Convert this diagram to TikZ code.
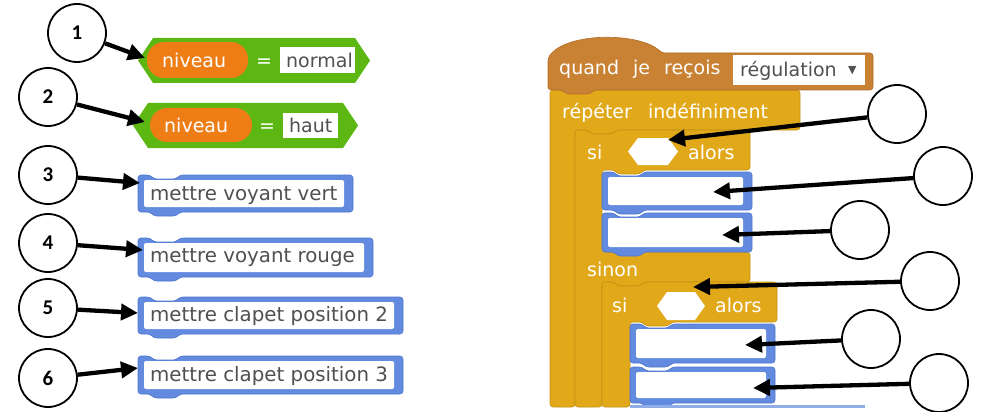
\documentclass[tikz,border=0pt]{standalone}
\usepackage{fontspec}
\setmainfont{DejaVu Sans}
\newfontfamily\numfont{Carlito}
\usetikzlibrary{arrows.meta}
\definecolor{scgreen}{RGB}{92,183,18}
\definecolor{scorange}{RGB}{238,125,22}
\definecolor{scblue}{RGB}{98,138,222}
\definecolor{scbluedark}{RGB}{80,118,208}
\definecolor{schat}{RGB}{201,130,52}
\definecolor{schatdark}{RGB}{178,110,40}
\definecolor{scctrl}{RGB}{225,169,26}
\definecolor{scctrldark}{RGB}{196,145,18}
\definecolor{sctextgray}{RGB}{80,80,80}
\newcommand\stackblk[4]{%
  \fill[scblue, draw=scbluedark, line width=0.6pt, rounded corners=3pt]
   (#1,#2) -- ({#1+12},#2) -- ({#1+16},{#2+4}) -- ({#1+38},{#2+4}) -- ({#1+42},#2) -- (#3,#2)
   -- (#3,#4) -- ({#1+42},#4) -- ({#1+38},{#4+4}) -- ({#1+16},{#4+4}) -- ({#1+12},#4) -- (#1,#4) -- cycle;
  \fill[white, rounded corners=2pt] ({#1+6},{#2+5}) rectangle ({#3-9},{#4-5});
}
\newcommand\boolblk[4]{%
  \fill[scgreen] (#1,{(#2+#4)/2}) -- ({#1+15},#2) -- ({#3-15},#2) -- (#3,{(#2+#4)/2}) -- ({#3-15},#4) -- ({#1+15},#4) -- cycle;
}
\tikzset{
  circ/.style={circle, draw, line width=1.8pt, minimum size=58pt, inner sep=0pt, font=\numfont\bfseries\fontsize{21}{21}\selectfont},
  arr/.style={line width=4.3pt, -{Triangle[length=17pt,width=16pt]}},
  wtext/.style={anchor=base west, inner sep=0pt, text=white, font=\fontsize{19}{19}\selectfont},
  gtext/.style={anchor=base west, inner sep=0pt, text=sctextgray, font=\fontsize{19}{19}\selectfont},
  btext/.style={anchor=base west, inner sep=0pt, text=sctextgray, font=\fontsize{19.8}{20}\selectfont},
  pill/.style={fill=scorange, rounded corners=17pt},
  slot/.style={fill=white},
  ctrlblk/.style={fill=scctrl, draw=scctrldark, line width=0.6pt, rounded corners=3pt},
}
\begin{document}
\begin{tikzpicture}[x=1pt,y=-1pt]
\useasboundingbox (0,0) rectangle (986,412);
% ---------- left side blocks ----------
\boolblk{138}{38}{370}{83}
\fill[pill] (147,42) rectangle (248,78);
\node[wtext] (nv1) at (162,68) {niveau};
\node[wtext] (eq1) at (256,68) {=};
\fill[white] (280,47) rectangle (355,73);
\node[gtext] (v1) at (286,68) {normal};

\boolblk{133}{103}{358}{148}
\fill[pill] (150,108) rectangle (252,142);
\node[wtext] (nv2) at (164,132) {niveau};
\node[wtext] (eq2) at (259,132) {=};
\fill[white] (283,113) rectangle (338,138);
\node[gtext] (v2) at (289,132) {haut};

\stackblk{138}{175}{353}{212}
\node[btext] (b3) at (150,200) {mettre voyant vert};
\stackblk{138}{238}{373}{277}
\node[btext] (b4) at (150,262) {mettre voyant rouge};
\stackblk{138}{297}{403}{334}
\node[btext] (b5) at (150,321) {mettre clapet position 2};
\stackblk{138}{356}{403}{394}
\node[btext] (b6) at (150,381) {mettre clapet position 3};

% ---------- right side script ----------
% repeat block
\fill[ctrlblk]
  (550,90) -- (800,90) -- (800,130) -- (617,130) -- (613,134) -- (591,134) -- (587,130)
  -- (575,130) -- (575,407) -- (550,407) -- cycle;
% si / sinon block
\fill[ctrlblk]
  (575,130) -- (587,130) -- (591,134) -- (613,134) -- (617,130) -- (750,130) -- (750,170)
  -- (644,170) -- (640,174) -- (618,174) -- (614,170)
  -- (602,170) -- (602,252) -- (750,252) -- (750,282)
  -- (644,282) -- (640,286) -- (618,286) -- (614,282)
  -- (602,282) -- (602,407) -- (575,407) -- cycle;
% nested si block
\fill[ctrlblk]
  (602,282) -- (614,282) -- (618,286) -- (640,286) -- (644,282) -- (777,282) -- (777,322)
  -- (672,322) -- (668,326) -- (646,326) -- (642,322)
  -- (630,322) -- (630,407) -- (602,407) -- cycle;
% hat block
\fill[schat, draw=schatdark, line width=0.6pt, rounded corners=3pt]
  (548,90) -- (548,58) .. controls (566,32) and (640,32) .. (662,53) -- (873,53) -- (873,90)
  -- (594,90) -- (590,94) -- (566,94) -- (562,90) -- cycle;
\node[wtext] (hat) at (559,75) {quand\hspace{8pt} je\hspace{8pt} reçois};
\fill[white] (733,55) rectangle (865,85);
\node[gtext] (reg) at (740,77) {régulation};
\node[anchor=base west, inner sep=0pt, text=sctextgray, font=\fontsize{11}{11}\selectfont] (tri) at (848,74) {▼};
\node[wtext] (rep) at (562,118) {répéter\hspace{10pt} indéfiniment};
\node[wtext] (si1) at (587,159) {si};
\fill[slot] (628,151.5) -- (638,138) -- (668,138) -- (678,151.5) -- (668,165) -- (638,165) -- cycle;
\node[wtext] (al1) at (688,159) {alors};
\stackblk{602}{172}{752}{210}
\stackblk{602}{213}{752}{252}
\node[wtext] (sn) at (587,276) {sinon};
\node[wtext] (si2) at (612,312) {si};
\fill[slot] (657,306) -- (667,292) -- (695,292) -- (705,306) -- (695,320) -- (667,320) -- cycle;
\node[wtext] (al2) at (715,312) {alors};
\stackblk{630}{324}{775}{363}
\stackblk{630}{367}{775}{403}
\fill[scblue!70] (630,405) rectangle (865,408);

% ---------- arrow targets ----------
\coordinate (tl1) at (145,58);
\coordinate (tl2) at (145,122);
\coordinate (tl3) at (140,183);
\coordinate (tl4) at (143,250);
\coordinate (tl5) at (138,313);
\coordinate (tl6) at (138,368);
\coordinate (tr1) at (668,140);
\coordinate (tr2) at (713,192);
\coordinate (tr3) at (722,235);
\coordinate (tr4) at (693,287);
\coordinate (tr5) at (745,345);
\coordinate (tr6) at (753,388);

% ---------- circles ----------
\node[circ] (n1) at (77,33) {1};
\node[circ] (n2) at (48,97) {2};
\node[circ] (n3) at (48,175) {3};
\node[circ] (n4) at (48,243) {4};
\node[circ] (n5) at (48,308) {5};
\node[circ] (n6) at (48,378) {6};
\node[circ] (r1) at (897,114) {};
\node[circ] (r2) at (943,176) {};
\node[circ] (r3) at (860,230) {};
\node[circ] (r4) at (930,281) {};
\node[circ] (r5) at (871,339) {};
\node[circ] (r6) at (939,383) {};

% ---------- arrows ----------
\draw[arr] (n1) -- (tl1);
\draw[arr] (n2) -- (tl2);
\draw[arr] (n3) -- (tl3);
\draw[arr] (n4) -- (tl4);
\draw[arr] (n5) -- (tl5);
\draw[arr] (n6) -- (tl6);
\draw[arr] (r1) -- (tr1);
\draw[arr] (r2) -- (tr2);
\draw[arr] (r3) -- (tr3);
\draw[arr] (r4) -- (tr4);
\draw[arr] (r5) -- (tr5);
\draw[arr] (r6) -- (tr6);
\end{tikzpicture}
\end{document}
